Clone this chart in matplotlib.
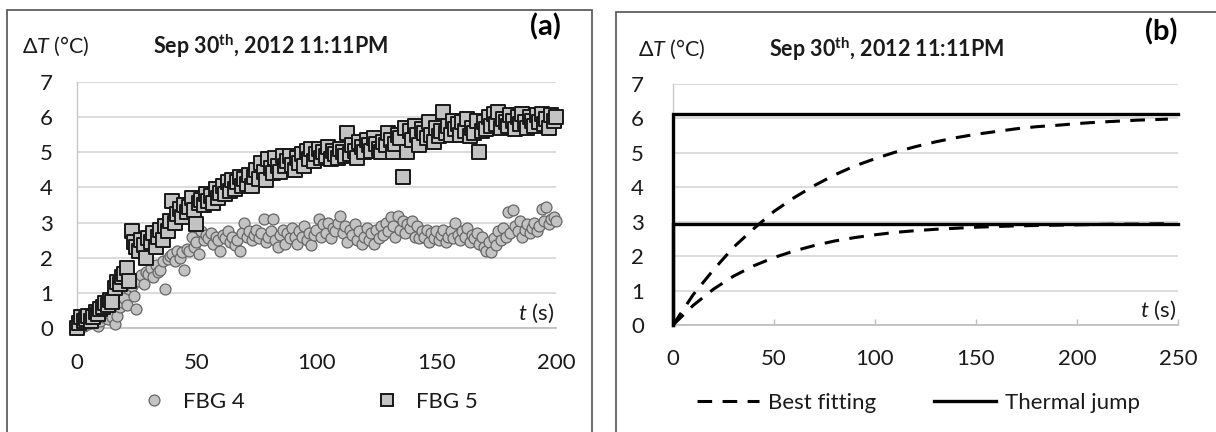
import numpy as np
import matplotlib
matplotlib.use("Agg")
import matplotlib.pyplot as plt
from matplotlib.patches import Rectangle
from matplotlib.lines import Line2D

# ---------------- data ----------------
t_scatter = np.arange(0, 201, 1)

fbg4 = [0.0, 0.05, 0.1, 0.05, 0.15, 0.1, 0.2, 0.15, 0.25, 0.05,
        0.2, 0.3, 0.35, 0.25, 0.4, 0.3, 0.1, 0.35, 0.6, 0.75,
        0.85, 0.65, 1.1, 1.2, 0.9, 0.55, 1.35, 1.5, 1.25, 1.6,
        1.55, 1.7, 1.45, 1.8, 1.6, 1.65, 1.9, 1.1, 1.95, 2.05,
        2.1, 1.9, 2.2, 2.0, 2.15, 1.65, 2.25, 2.2, 2.6, 2.3,
        2.45, 2.1, 2.75, 2.5, 2.65, 2.55, 2.7, 2.4, 2.6, 2.5,
        2.2, 2.65, 2.55, 2.75, 2.45, 2.6, 2.35, 2.5, 2.2, 2.7,
        3.0, 2.6, 2.75, 2.5, 2.65, 2.8, 2.55, 2.7, 3.1, 2.45,
        2.6, 2.75, 3.1, 2.5, 2.3, 2.65, 2.8, 2.4, 2.7, 2.55,
        2.85, 2.6, 2.4, 2.75, 2.6, 2.9, 2.5, 2.7, 2.35, 2.65,
        2.8, 3.1, 2.6, 2.95, 2.7, 3.0, 2.55, 2.85, 2.75, 3.0,
        3.2, 2.7, 2.9, 2.45, 2.8, 2.65, 2.95, 2.5, 2.75, 2.4,
        2.6, 2.85, 2.5, 2.7, 2.4, 2.8, 2.55, 2.9, 2.65, 3.0,
        2.75, 3.15, 2.9, 2.6, 3.2, 2.8, 3.05, 2.7, 2.95, 2.85,
        3.05, 2.6, 2.9, 2.55, 2.75, 2.6, 2.8, 2.45, 2.7, 2.55,
        2.75, 2.5, 2.65, 2.8, 2.45, 2.6, 2.75, 2.55, 3.0, 2.65,
        2.5, 2.75, 2.6, 2.85, 2.45, 2.65, 2.55, 2.7, 2.4, 2.6,
        2.3, 2.2, 2.45, 2.15, 2.55, 2.35, 2.75, 2.5, 2.85, 2.6,
        3.3, 2.7, 3.35, 2.9, 2.75, 3.05, 2.6, 2.8, 2.95, 2.7,
        2.85, 3.0, 2.75, 2.9, 3.4, 3.05, 3.45, 2.95, 3.1, 3.15,
        3.05]

fbg5 = [0.0, 0.15, 0.3, 0.2, 0.25, 0.35, 0.2, 0.3, 0.45, 0.4,
        0.55, 0.6, 0.7, 0.65, 0.8, 0.75, 1.15, 1.3, 1.25, 1.45,
        1.55, 1.7, 1.35, 2.75, 2.45, 2.3, 2.2, 2.5, 2.35, 2.0,
        2.55, 2.45, 2.7, 2.3, 2.6, 2.8, 2.5, 2.9, 2.75, 3.05,
        3.6, 3.0, 3.25, 3.4, 3.15, 3.5, 3.3, 3.45, 3.7, 3.35,
        2.95, 3.55, 3.65, 3.5, 3.8, 3.6, 3.75, 3.55, 3.95, 3.7,
        3.85, 4.05, 3.8, 4.15, 3.9, 4.2, 3.95, 4.15, 4.3, 4.05,
        4.25, 4.1, 4.35, 4.05, 4.3, 4.5, 4.25, 4.7, 4.45, 4.2,
        4.8, 4.55, 4.4, 4.85, 4.6, 4.45, 4.9, 4.6, 4.75, 4.9,
        4.65, 4.5, 4.85, 4.7, 4.95, 4.6, 5.05, 4.8, 5.1, 4.75,
        4.95, 5.1, 4.85, 5.0, 4.9, 5.15, 4.8, 5.05, 4.95, 4.85,
        5.1, 5.0, 4.9, 5.55, 4.95, 5.2, 5.05, 4.85, 5.3, 5.15,
        5.0, 5.35, 5.2, 5.05, 5.4, 5.25, 5.1, 5.0, 5.3, 5.2,
        5.55, 5.35, 5.0, 5.25, 5.5, 5.4, 4.3, 5.7, 5.0, 5.6,
        5.35, 5.75, 5.5, 5.2, 5.65, 5.55, 5.4, 5.85, 5.5, 5.3,
        5.7, 5.45, 5.6, 6.15, 5.55, 5.75, 5.5, 5.9, 5.65, 5.8,
        5.5, 5.85, 5.6, 5.95, 5.45, 5.7, 5.55, 5.9, 5.0, 5.6,
        5.85, 5.65, 6.0, 5.75, 6.1, 5.8, 6.15, 5.7, 5.95, 5.85,
        5.75, 6.05, 5.9, 5.65, 6.0, 5.8, 6.1, 5.85, 5.7, 6.0,
        5.9, 5.75, 6.05, 5.85, 6.1, 5.8, 5.95, 5.7, 6.05, 5.9,
        6.0]

t_fit = [0, 10, 20, 30, 40, 50, 60, 70, 80, 90, 100, 110, 120, 130, 140,
         150, 160, 170, 180, 190, 200, 210, 220, 230, 240, 245]
fit_upper = [0.0, 0.88, 1.6, 2.26, 2.8, 3.3, 3.7, 4.05, 4.36, 4.62, 4.83,
             5.02, 5.18, 5.32, 5.44, 5.54, 5.62, 5.7, 5.76, 5.8, 5.85,
             5.89, 5.92, 5.95, 5.97, 5.98]
fit_lower = [0.0, 0.57, 1.04, 1.42, 1.72, 1.96, 2.15, 2.31, 2.44, 2.54, 2.62,
             2.69, 2.74, 2.78, 2.81, 2.84, 2.86, 2.88, 2.89, 2.9, 2.91,
             2.92, 2.93, 2.93, 2.94, 2.94]

t_jump = [0, 0, 250]
jump_upper = [0, 6.12, 6.12]
jump_lower = [0, 2.94, 2.94]

y_ticks = [0, 1, 2, 3, 4, 5, 6, 7]
xa_ticks = [0, 50, 100, 150, 200]
xb_ticks = [0, 50, 100, 150, 200, 250]
title_text = "Sep 30$^{\\mathbf{th}}$, 2012 11:11PM"

# ---------------- style ----------------
plt.rcParams['font.family'] = ['Lato', 'DejaVu Sans']
plt.rcParams['mathtext.fontset'] = 'custom'
plt.rcParams['mathtext.rm'] = 'Lato'
plt.rcParams['mathtext.it'] = 'Lato:italic'
plt.rcParams['mathtext.bf'] = 'Lato:bold'

W, H = 1216, 432
fig = plt.figure(figsize=(W / 100, H / 100), dpi=100)


def fx(px):
    return px / W


def fy(py):
    return 1 - py / H


TXT = '#1a1a1a'
GRID = '#d9d9d9'
FS = 16

# panel borders
fig.patches.append(Rectangle((fx(7), fy(445)), fx(592) - fx(7), fy(10) - fy(445),
                             transform=fig.transFigure, fill=False,
                             edgecolor='#5f5f5f', lw=1.3, clip_on=False))
fig.patches.append(Rectangle((fx(616), fy(445)), fx(1230) - fx(616), fy(12) - fy(445),
                             transform=fig.transFigure, fill=False,
                             edgecolor='#5f5f5f', lw=1.3, clip_on=False))

axa = fig.add_axes([fx(76.5), fy(328), fx(556) - fx(76.5), fy(82) - fy(328)])
axb = fig.add_axes([fx(673), fy(325), fx(1178) - fx(673), fy(84) - fy(325)])

for ax in (axa, axb):
    ax.set_ylim(0, 7)
    ax.set_yticks(y_ticks)
    ax.grid(axis='y', color=GRID, lw=1.3)
    ax.set_axisbelow(True)
    for s in ('top', 'right'):
        ax.spines[s].set_visible(False)
    ax.spines['left'].set_color('#c8c8c8')
    ax.spines['left'].set_linewidth(1.0)
    ax.spines['bottom'].set_color('#c0c0c0')
    ax.spines['bottom'].set_linewidth(1.3)
    ax.tick_params(axis='both', labelsize=FS, colors=TXT, length=0)
    ax.patch.set_alpha(0)

axa.set_xlim(0, 200)
axa.set_xticks(xa_ticks)
axa.tick_params(axis='y', pad=17)
axa.tick_params(axis='x', pad=18)

axb.set_xlim(0, 250)
axb.set_xticks(xb_ticks)
axb.tick_params(axis='y', pad=21)
axb.tick_params(axis='x', pad=17, direction='in', length=4.5, width=1.0,
                color='#bfbfbf', labelcolor=TXT)

# ---- panel (a) scatter ----
S_C, S_S = 62, 92
axa.scatter(t_scatter, fbg4, s=S_C, marker='o', facecolor='#c3c3c3',
            edgecolor='#666666', linewidths=0.9, zorder=3, clip_on=False)
axa.scatter(t_scatter, fbg5, s=S_S, marker='s', facecolor='#c3c3c3',
            edgecolor='#181818', linewidths=1.4, zorder=4, clip_on=False)

# ---- panel (b) lines ----
dash = (0, (4.8, 3.4))
axb.plot(t_fit, fit_upper, color='black', lw=2.2, ls=dash, zorder=3)
axb.plot(t_fit, fit_lower, color='black', lw=2.2, ls=dash, zorder=3)
axb.plot(t_jump, jump_upper, color='black', lw=2.4, zorder=4, clip_on=False,
         solid_joinstyle='miter')
axb.plot(t_jump, jump_lower, color='black', lw=2.4, zorder=4, clip_on=False,
         solid_joinstyle='miter')

# ---- axis texts ----
for ax in (axa, axb):
    ax.text(0.997, 0.012, "$t$ (s)", transform=ax.transAxes, ha='right',
            va='bottom', fontsize=FS, color=TXT)

fig.text(fx(22), fy(46), "Δ$T$ (°C)", ha='left', va='center', fontsize=15.5, color=TXT)
fig.text(fx(638), fy(49), "Δ$T$ (°C)", ha='left', va='center', fontsize=15.5, color=TXT)

fig.text(fx(271), fy(46), title_text, ha='center', va='center', fontsize=15.5,
         fontweight='bold', color=TXT)
fig.text(fx(887), fy(49), title_text, ha='center', va='center', fontsize=15.5,
         fontweight='bold', color=TXT)

fig.text(fx(561), fy(27), "(a)", ha='right', va='center', fontsize=21,
         fontweight='bold', color='black')
fig.text(fx(1178), fy(32), "(b)", ha='right', va='center', fontsize=21,
         fontweight='bold', color='black')

# ---- legends ----
h4 = Line2D([], [], marker='o', ls='none', markersize=np.sqrt(S_C),
            markerfacecolor='#c3c3c3', markeredgecolor='#666666', markeredgewidth=0.9)
h5 = Line2D([], [], marker='s', ls='none', markersize=np.sqrt(S_S) * 0.85,
            markerfacecolor='#c3c3c3', markeredgecolor='#181818', markeredgewidth=1.4)
leg_a = axa.legend([h4, h5], ["FBG 4", "FBG 5"], loc='center left',
                   bbox_to_anchor=(fx(143), fy(402)), bbox_transform=fig.transFigure,
                   ncol=2, frameon=False, fontsize=FS, handlelength=1.0,
                   handletextpad=0.8, columnspacing=5.9, borderpad=0,
                   borderaxespad=0)
for tx in leg_a.get_texts():
    tx.set_color(TXT)

hb1 = Line2D([], [], color='black', lw=2.2, ls=dash)
hb2 = Line2D([], [], color='black', lw=2.4)
leg_b = axb.legend([hb1, hb2], ["Best fitting", "Thermal jump"], loc='center left',
                   bbox_to_anchor=(fx(697), fy(403)), bbox_transform=fig.transFigure,
                   ncol=2, frameon=False, fontsize=FS, handlelength=2.8,
                   handletextpad=0.4, columnspacing=2.6, borderpad=0,
                   borderaxespad=0)
for tx in leg_b.get_texts():
    tx.set_color(TXT)

fig.savefig("out.png", dpi=100)
